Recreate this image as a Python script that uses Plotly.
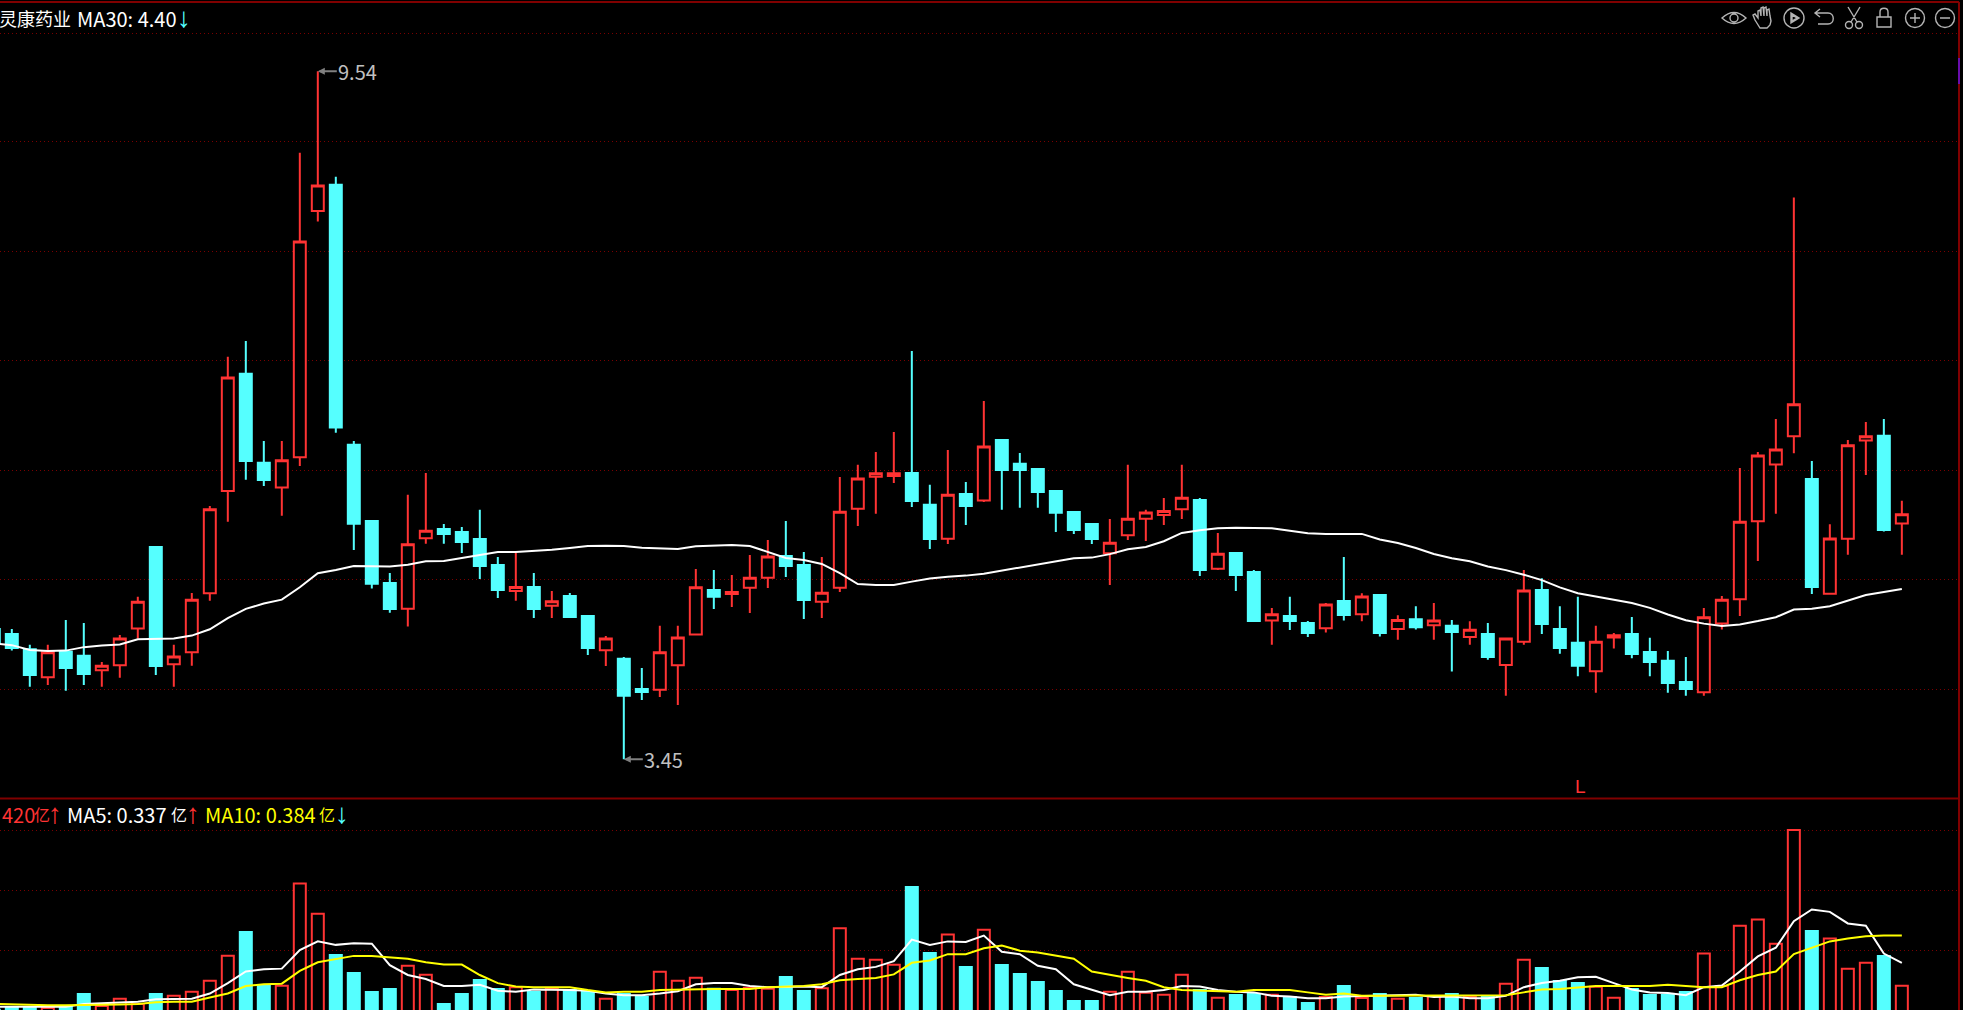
import math
import plotly.graph_objects as go

W, H = 1963, 1010
days = list(range(-1, 106))

highs = [4.183,4.183,4.086,4.086,4.239,4.220,3.984,4.146,4.386,4.722,4.086,
 4.411,5.017,6.254,6.403,5.523,5.523,8.456,9.54,8.161,5.523,
 4.907,4.544,5.100,5.268,4.885,4.864,4.988,4.653,4.680,4.544,
 4.425,4.411,4.264,4.140,4.013,3.949,4.202,4.202,4.571,4.564,
 4.530,4.666,4.771,4.907,4.687,4.653,5.237,5.331,5.434,5.597,
 6.309,5.176,5.450,5.198,5.859,5.531,5.426,5.307,5.129,4.973,
 4.885,4.921,5.331,4.988,5.077,5.331,5.077,4.821,4.687,4.564,
 4.315,4.386,4.233,4.347,4.652,4.410,4.398,4.268,4.326,4.347,
 4.239,4.230,4.220,4.124,4.563,4.509,4.326,4.386,4.202,4.158,
 4.258,4.129,4.049,4.013,4.315,4.391,5.307,5.434,5.706,7.914,
 5.361,4.883,5.531,5.680,5.706,5.055]
lows = [4.055,4.051,3.841,3.850,3.818,3.850,3.841,3.892,4.124,3.908,3.841,
 3.962,4.361,4.902,5.216,5.168,4.944,5.322,7.638,5.591,4.701,
 4.440,4.285,4.198,4.745,4.745,4.680,4.504,4.379,4.361,4.251,
 4.251,4.251,4.025,3.960,3.45,3.766,3.783,3.738,4.142,4.308,
 4.321,4.283,4.444,4.517,4.245,4.251,4.418,4.871,4.959,5.191,
 5.010,4.708,4.743,4.878,5.047,4.988,5.003,5.003,4.828,4.813,
 4.743,4.464,4.771,4.764,4.878,4.921,4.524,4.564,4.425,4.227,
 4.086,4.177,4.134,4.161,4.235,4.230,4.136,4.117,4.180,4.117,
 3.928,4.087,3.997,3.790,4.087,4.152,4.033,3.901,3.807,4.063,
 4.006,3.901,3.807,3.790,3.790,4.180,4.263,4.625,4.960,5.423,
 4.405,4.400,4.668,5.252,4.831,4.668]
opens = [4.183,4.152,4.059,3.895,4.045,4.020,3.935,3.964,4.185,4.722,3.970,
 4.041,4.409,5.129,6.099,5.347,5.155,5.391,7.758,8.065,5.491,
 4.907,4.477,4.310,4.783,4.849,4.828,4.778,4.598,4.425,4.451,
 4.329,4.392,4.264,4.053,4.002,3.828,3.824,3.964,4.148,4.431,
 4.405,4.446,4.512,4.659,4.598,4.355,4.446,4.997,5.239,5.245,
 5.268,5.025,4.780,5.106,5.057,5.531,5.339,5.299,5.129,4.973,
 4.885,4.678,4.804,4.923,4.951,4.993,5.062,4.573,4.680,4.551,
 4.235,4.264,4.220,4.187,4.359,4.275,4.398,4.183,4.244,4.206,
 4.202,4.133,4.152,3.966,4.105,4.431,4.183,4.098,3.930,4.130,
 4.152,4.043,3.991,3.867,3.809,4.216,4.371,4.905,5.334,5.562,
 5.221,4.407,4.780,5.527,5.565,4.889]
closes = [4.096,4.066,3.908,4.041,3.949,3.914,3.962,4.124,4.355,3.960,4.016,
 4.368,4.993,6.065,5.362,5.214,5.368,7.416,8.056,5.633,4.887,
 4.472,4.308,4.741,4.837,4.813,4.757,4.591,4.431,4.451,4.308,
 4.358,4.258,4.067,4.124,3.789,3.811,4.041,4.130,4.449,4.386,
 4.418,4.512,4.655,4.591,4.366,4.413,4.975,5.224,5.265,5.265,
 5.054,4.778,5.101,5.017,5.478,5.291,5.291,5.122,4.966,4.842,
 4.778,4.752,4.923,4.968,4.980,5.079,4.564,4.675,4.530,4.233,
 4.275,4.233,4.158,4.337,4.270,4.388,4.158,4.239,4.194,4.235,
 4.164,4.178,4.013,4.124,4.428,4.214,4.067,3.961,4.105,4.144,
 4.031,3.984,3.861,3.827,4.256,4.368,4.902,5.406,5.453,5.830,
 4.451,4.782,5.488,5.562,4.842,4.956]
ma30 = [4.094,4.084,4.055,4.049,4.051,4.072,4.082,4.088,4.120,4.124,4.124,
 4.142,4.181,4.250,4.309,4.343,4.368,4.449,4.542,4.564,4.591,
 4.589,4.587,4.600,4.623,4.625,4.646,4.669,4.687,4.687,4.694,
 4.703,4.715,4.729,4.731,4.729,4.717,4.714,4.708,4.727,4.731,
 4.736,4.729,4.685,4.646,4.632,4.605,4.542,4.470,4.464,4.464,
 4.486,4.506,4.519,4.526,4.539,4.559,4.579,4.600,4.620,4.644,
 4.648,4.672,4.706,4.722,4.762,4.821,4.840,4.855,4.857,4.857,
 4.855,4.837,4.818,4.814,4.814,4.814,4.774,4.750,4.715,4.673,
 4.644,4.623,4.588,4.563,4.532,4.496,4.448,4.410,4.388,4.366,
 4.347,4.315,4.273,4.237,4.216,4.201,4.211,4.232,4.256,4.305,
 4.309,4.326,4.361,4.398,4.418,4.438]
volumes = [0.256,0.2590,0.2590,0.2590,0.2625,0.2832,0.2625,0.2751,0.2659,0.2832,0.2803,
 0.2872,0.3062,0.3494,0.3903,0.2970,0.2976,0.4738,0.4219,0.3506,0.3195,
 0.2867,0.2918,0.3321,0.3166,0.2659,0.2832,0.3074,0.2918,0.2947,0.2867,
 0.2918,0.2901,0.2867,0.2751,0.2832,0.2780,0.3218,0.3062,0.3114,0.2924,
 0.2901,0.2941,0.2924,0.3126,0.2884,0.2930,0.3966,0.3442,0.3425,0.3339,
 0.4680,0.3540,0.3857,0.3298,0.3943,0.3333,0.3177,0.3039,0.2884,0.2711,
 0.2711,0.2872,0.3218,0.2855,0.2820,0.3166,0.2901,0.2769,0.2815,0.2832,
 0.2820,0.2780,0.2677,0.2780,0.2970,0.2763,0.2832,0.2751,0.2763,0.2797,
 0.2832,0.2780,0.2780,0.3010,0.3425,0.3281,0.3056,0.3022,0.2959,0.2769,
 0.2918,0.2815,0.2815,0.2867,0.3529,0.2970,0.4012,0.4116,0.3701,0.5664,
 0.3920,0.3788,0.3270,0.3373,0.3488,0.2976]
vol_ma5 = [.261,.261,.261,.261,.261,.266,.267,.268,.270,.274,.275,
 .275,.284,.302,.322,.326,.327,.359,.374,.368,.371,
 .370,.333,.316,.309,.297,.297,.299,.289,.287,.291,
 .291,.290,.289,.284,.281,.281,.284,.288,.300,.302,
 .302,.297,.295,.296,.296,.295,.316,.326,.330,.340,
 .377,.368,.374,.373,.384,.356,.352,.332,.326,.300,
 .290,.281,.287,.287,.290,.297,.296,.290,.287,.286,
 .280,.279,.276,.276,.279,.280,.280,.281,.282,.278,
 .279,.276,.276,.280,.295,.302,.306,.312,.313,.302,
 .291,.286,.285,.281,.295,.298,.322,.348,.363,.409,
 .429,.425,.405,.401,.353,.337]
vol_ma10 = [.266,.265,.264,.264,.264,.264,.264,.265,.266,.269,.270,
 .270,.277,.284,.297,.300,.301,.323,.338,.343,.349,
 .349,.347,.344,.338,.334,.334,.316,.302,.296,.295,
 .295,.295,.290,.286,.287,.287,.290,.291,.292,.292,
 .292,.292,.295,.296,.297,.300,.307,.309,.311,.317,
 .337,.341,.352,.352,.362,.367,.358,.355,.349,.344,
 .322,.316,.311,.306,.295,.290,.289,.287,.287,.290,
 .290,.290,.286,.282,.284,.280,.280,.280,.280,.280,
 .280,.280,.280,.281,.286,.291,.292,.295,.297,.297,
 .297,.297,.299,.297,.295,.295,.307,.316,.322,.352,
 .363,.374,.379,.383,.384,.384]
price_grid = [10.093, 8.603, 7.307, 6.223, 5.289, 4.502, 3.826]
vol_grid = [0.5653, 0.4617, 0.3580]

RED, CYAN, GRID, BORDER = "#ff3333", "#55ffff", "#7a0000", "#800000"
up = [c >= o for c, o in zip(closes, opens)]

fig = go.Figure()
fig.add_trace(go.Candlestick(
    x=days, open=opens, high=highs, low=lows, close=closes,
    increasing=dict(line=dict(color=RED, width=2), fillcolor="#000000"),
    decreasing=dict(line=dict(color=CYAN, width=2), fillcolor=CYAN),
    whiskerwidth=0, xaxis="x", yaxis="y", showlegend=False, hoverinfo="skip"))
fig.add_trace(go.Scatter(x=days, y=ma30, mode="lines", line=dict(color="#ffffff", width=2),
                         xaxis="x", yaxis="y", showlegend=False, hoverinfo="skip"))
fig.add_trace(go.Bar(
    x=days, y=volumes, width=0.667, xaxis="x2", yaxis="y2", showlegend=False, hoverinfo="skip",
    marker=dict(color=["#000000" if u else CYAN for u in up],
                line=dict(color=[RED if u else CYAN for u in up], width=2))))
fig.add_trace(go.Scatter(x=days, y=vol_ma5, mode="lines", line=dict(color="#ffffff", width=2),
                         xaxis="x2", yaxis="y2", showlegend=False, hoverinfo="skip"))
fig.add_trace(go.Scatter(x=days, y=vol_ma10, mode="lines", line=dict(color="#ffff00", width=2),
                         xaxis="x2", yaxis="y2", showlegend=False, hoverinfo="skip"))

xrange_ = [-0.6556, 108.12]
xdom = [0, 1958 / W]
axis_x = dict(range=xrange_, domain=xdom, visible=False, showgrid=False, zeroline=False)
common_y = dict(showticklabels=False, ticks="", zeroline=False, showline=False, showgrid=True,
                gridcolor=GRID, gridwidth=1, griddash="1px,3px", tickmode="array")

CJK = "Noto Sans CJK SC"
def px(x): return x / W
def py(y): return 1 - y / H
def label(x, y, text, color, size=20, family=CJK, anchor="left"):
    return dict(x=px(x), y=py(y), xref="paper", yref="paper", text=text, showarrow=False,
                xanchor=anchor, yanchor="middle", align="left",
                font=dict(family=family, size=size, color=color))
def arrow(x, y, text, color):
    return label(x, y, text, color, 28, "Liberation Sans", "center")

annotations = [
    label(-3, 18, "灵康药业", "#ffffff", 18),
    label(75, 18, "MA30: 4.40", "#ffffff"),
    arrow(184, 17, "↓", CYAN),
    label(0, 814, "420", RED),
    label(32, 814, "亿", RED, 16),
    arrow(55, 813, "↑", RED),
    label(65, 814, "MA5: 0.337", "#ffffff"),
    label(169, 814, "亿", "#ffffff", 16),
    arrow(193, 813, "↑", RED),
    label(203, 814, "MA10: 0.384", "#ffff00"),
    label(317, 814, "亿", "#ffff00", 16),
    arrow(342, 813, "↓", CYAN),
    label(1573, 786, "L", RED, 19, "Liberation Sans"),
    dict(x=17, y=math.log10(9.54), xref="x", yref="y", text="9.54", showarrow=True, ax=40, ay=0,
         arrowhead=2, arrowsize=0.7, arrowwidth=2, arrowcolor="#808080",
         font=dict(family=CJK, size=20, color="#c0c0c0")),
    dict(x=34, y=math.log10(3.45), xref="x", yref="y", text="3.45", showarrow=True, ax=40, ay=0,
         arrowhead=2, arrowsize=0.7, arrowwidth=2, arrowcolor="#808080",
         font=dict(family=CJK, size=20, color="#c0c0c0")),
]

def hline(y, x0=0, x1=1959, w=2, color=BORDER):
    return dict(type="line", xref="paper", yref="paper", x0=px(x0), x1=px(x1), y0=py(y), y1=py(y),
                line=dict(color=color, width=w), layer="above")
shapes = [
    hline(2),
    hline(798.5),
    dict(type="line", xref="paper", yref="paper", x0=px(1959), x1=px(1959), y0=py(2), y1=0,
         line=dict(color=BORDER, width=2), layer="above"),
    dict(type="line", xref="paper", yref="paper", x0=px(1959), x1=px(1959), y0=py(58), y1=py(84),
         line=dict(color="#6a0dad", width=2), layer="above"),
]

def circle(cx, cy, r):
    k = 0.5523 * r
    return (f"M{cx-r},{cy} C{cx-r},{cy+k} {cx-k},{cy+r} {cx},{cy+r} C{cx+k},{cy+r} {cx+r},{cy+k} {cx+r},{cy} "
            f"C{cx+r},{cy-k} {cx+k},{cy-r} {cx},{cy-r} C{cx-k},{cy-r} {cx-r},{cy-k} {cx-r},{cy} Z ")
ICONS = [
    (1734, "M-12,0 Q0,11 12,0 Q0,-11 -12,0 Z " + circle(0, 0, 4)),
    (1764, "M-4,-10 L-9,-2 L-11,3 L-9,4 L-6,0 L-6,7 L-4,8 L-3,2 L-3,10 L-1,11 L0,2 L0,10 L2,11 L3,2 L3,8 L5,9 L6,2 "
           "L7,-3 L6,-7 L3,-10 Z"),
    (1794, circle(0, 0, 10) + "M-3,-5 L5,0 L-3,5 Z M-2,-3 L3,0 L-2,3 Z"),
    (1825, "M-9,5 L3,5 C10,5 10,-6 3,-6 L-7,-6 M-5,9 L-10,5 L-5,1"),
    (1854, circle(-5, -7, 3.5) + circle(5, -7, 3.5) + "M-3,-4 L6,11 M3,-4 L-6,11"),
    (1884, "M-7,-9 L7,-9 L7,1 L-7,1 Z M-4,1 L-4,6 C-4,11 4,11 4,6 L4,1"),
    (1915, circle(0, 0, 9.5) + "M-5,0 L5,0 M0,-5 L0,5"),
    (1945, circle(0, 0, 9.5) + "M-5,0 L5,0"),
]
for cx, path in ICONS:
    shapes.append(dict(type="path", path=path, xref="paper", yref="paper", xsizemode="pixel", ysizemode="pixel",
                       xanchor=px(cx), yanchor=py(18), line=dict(color="#b4b4b4", width=1.4), layer="above"))

fig.update_layout(
    width=W, height=H, margin=dict(l=0, r=0, t=0, b=0, pad=0), autosize=False,
    paper_bgcolor="#000000", plot_bgcolor="#000000", showlegend=False, barmode="overlay",
    boxgap=0.05, hovermode=False,
    xaxis=dict(axis_x, rangeslider=dict(visible=False), anchor="y"),
    xaxis2=dict(axis_x, anchor="y2"),
    yaxis=dict(common_y, type="log", domain=[py(798), py(4)],
               range=[math.log10(3.258), math.log10(10.536)], tickvals=price_grid, anchor="x"),
    yaxis2=dict(common_y, domain=[0, py(800)], range=[0.2556, 0.618], tickvals=vol_grid, anchor="x2"),
    annotations=annotations, shapes=shapes,
)

post = ("document.body.style.margin='0';document.body.style.background='#000';"
        "document.documentElement.style.background='#000';document.body.style.overflow='hidden';")
fig.write_html("out.html", config=dict(displayModeBar=False), post_script=post)
